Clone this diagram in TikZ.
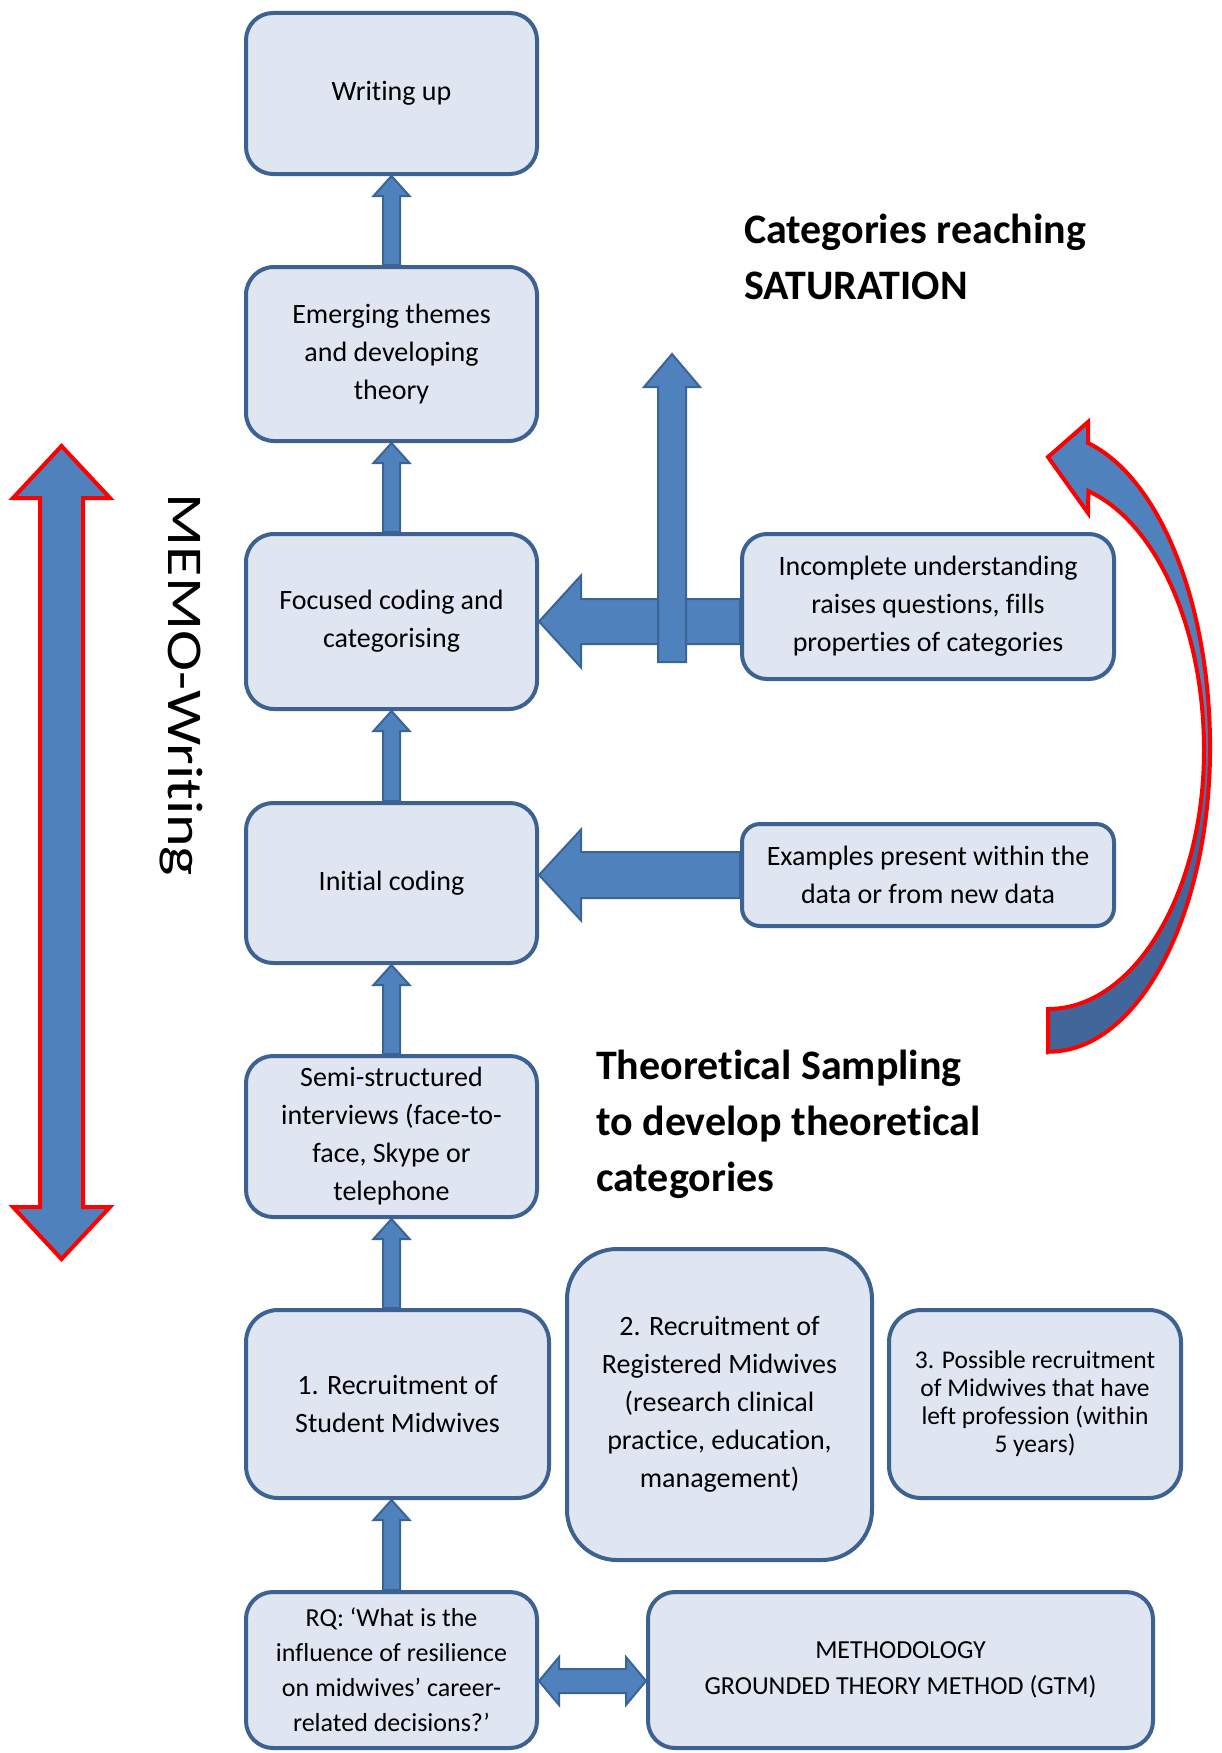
\documentclass[tikz,border=0pt]{standalone}
\usepackage{fontspec}
\setmainfont{Carlito}[Ligatures=NoCommon]
\usetikzlibrary{calc}

\definecolor{boxfill}{HTML}{DFE6F1}
\definecolor{boxline}{HTML}{3D6191}
\definecolor{arrfill}{HTML}{4F81BD}
\definecolor{arrline}{HTML}{3A6396}
\definecolor{arrdark}{HTML}{41679A}
\definecolor{loopred}{HTML}{FF0000}

\tikzset{
  stage/.style={draw=boxline, fill=boxfill, line width=4pt, rounded corners=#1,
    align=center, inner sep=0pt, text=black, font=\fontsize{28}{38}\selectfont},
  stage/.default=27pt,
  blockarr/.style={fill=arrfill, draw=arrline, line width=2pt, line join=miter},
  memoarr/.style={fill=arrfill, draw=loopred, line width=4pt, line join=miter},
  heading/.style={font=\bfseries\fontsize{42}{56}\selectfont, align=left,
    anchor=west, inner sep=0pt},
}

% single block arrow: style, tail, tip, shaft half width, head half width, head length
\newcommand\blockarrow[6]{%
  \coordinate (ba-head) at ($(#3)!#6!(#2)$);
  \filldraw[#1] ($(#2)!#4!-90:(#3)$) -- ($(ba-head)!#4!-90:(#3)$)
    -- ($(ba-head)!#5!-90:(#3)$) -- (#3) -- ($(ba-head)!#5!90:(#3)$)
    -- ($(ba-head)!#4!90:(#3)$) -- ($(#2)!#4!90:(#3)$) -- cycle;
}
% double block arrow: style, end a, end b, shaft half width, head half width, head length
\newcommand\dblockarrow[6]{%
  \coordinate (da-a) at ($(#2)!#6!(#3)$);
  \coordinate (da-b) at ($(#3)!#6!(#2)$);
  \filldraw[#1] (#2) -- ($(da-a)!#5!90:(#3)$) -- ($(da-a)!#4!90:(#3)$)
    -- ($(da-b)!#4!90:(#3)$) -- ($(da-b)!#5!90:(#3)$) -- (#3)
    -- ($(da-b)!#5!-90:(#3)$) -- ($(da-b)!#4!-90:(#3)$)
    -- ($(da-a)!#4!-90:(#3)$) -- ($(da-a)!#5!-90:(#3)$) -- cycle;
}
% outline of the curved feedback arrow on the right
\newcommand\looppath{(1048,1052) -- (1048,1009)
  arc[start angle=90, end angle=0, x radius=156, y radius=259]
  arc[start angle=0, end angle=-75, x radius=156, y radius=268]
  -- (1088,513) -- (1048,457) -- (1088,422) -- (1088,443)
  arc[start angle=-76, end angle=0, x radius=161, y radius=314]
  arc[start angle=0, end angle=90, x radius=161, y radius=304] -- cycle}

\begin{document}
\begin{tikzpicture}[x=1pt, y=-1pt]
\useasboundingbox (0,0) rectangle (1221,1753);

% main column of stages
\node[stage, minimum width=291pt, minimum height=161pt] (WU) at (391.5,93.5) {Writing up};
\node[stage=28pt, minimum width=291pt, minimum height=174pt] (EM) at (391.5,354)
  {Emerging themes\\and developing\\theory};
\node[stage=28pt, minimum width=291pt, minimum height=175pt] (FO) at (391.5,621.5)
  {Focused coding and\\categorising};
\node[stage, minimum width=291pt, minimum height=160pt] (IN) at (391.5,883) {Initial coding};
\node[stage, minimum width=291pt, minimum height=161pt] (SE) at (391.5,1136.5)
  {Semi-structured\\interviews (face-to-\\face, Skype or\\telephone};
\node[stage=32pt, minimum width=303pt, minimum height=188pt] (R1) at (397.5,1404)
  {1. Recruitment of\\Student Midwives};
\node[stage=50pt, minimum width=305pt, minimum height=311pt] (R2) at (719.5,1404.5)
  {2. Recruitment of\\Registered Midwives\\(research clinical\\practice, education,\\management)};
\node[stage=32pt, minimum width=292pt, minimum height=188pt,
  font=\fontsize{25.5}{28}\selectfont] (R3) at (1035,1404)
  {3. Possible recruitment\\of Midwives that have\\left profession (within\\5 years)};
\node[stage, minimum width=291pt, minimum height=156pt,
  font=\fontsize{26}{35}\selectfont] (RQ) at (391.5,1670)
  {RQ: ‘What is the\\influence of resilience\\on midwives’ career-\\related decisions?’};
\node[stage, minimum width=505pt, minimum height=156pt,
  font=\fontsize{26}{36}\selectfont] (ME) at (900.5,1670)
  {METHODOLOGY\\GROUNDED THEORY METHOD (GTM)};

% side boxes
\node[stage=25pt, minimum width=372pt, minimum height=145pt] (IC) at (928,606.5)
  {Incomplete understanding\\raises questions, fills\\properties of categories};
\node[stage=18pt, minimum width=372pt, minimum height=102pt] (EX) at (928,875)
  {Examples present within the\\data or from new data};

% headings
\node[heading] (sat) at (744,257) {Categories reaching\\SATURATION};
\node[heading] (theo) at (596,1124) {Theoretical Sampling\\to develop theoretical\\categories};
\node[rotate=-90, font=\fontsize{50}{50}\selectfont, inner sep=0pt] (memo) at (181,685)
  {\scalebox{1.24}[1]{MEMO-Writing}};

% upward flow between stages
\blockarrow{blockarr}{RQ.north}{R1.south -| RQ.north}{8.5pt}{18pt}{20pt}
\coordinate (r1top) at (SE.south |- R1.north);
\blockarrow{blockarr}{r1top}{SE.south}{8.5pt}{18pt}{20pt}
\blockarrow{blockarr}{SE.north}{IN.south}{8.5pt}{18pt}{20pt}
\blockarrow{blockarr}{IN.north}{FO.south}{8.5pt}{18pt}{20pt}
\blockarrow{blockarr}{FO.north}{EM.south}{8.5pt}{18pt}{20pt}
\blockarrow{blockarr}{EM.north}{WU.south}{8.5pt}{18pt}{20pt}

% feedback from the side boxes
\coordinate (ic-tail) at (IC.west |- FO.east);
\blockarrow{blockarr}{ic-tail}{FO.east}{22.5pt}{46pt}{42pt}
\coordinate (ex-tip) at (IN.east |- EX.west);
\blockarrow{blockarr}{EX.west}{ex-tip}{23pt}{45.5pt}{42pt}

% towards saturation
\coordinate (sat-tail) at (672,662);
\coordinate (sat-tip) at (672,354);
\blockarrow{blockarr}{sat-tail}{sat-tip}{14pt}{28pt}{33pt}

% research question <-> methodology
\coordinate (rq-end) at ($(RQ.east)+(0,11)$);
\coordinate (me-end) at (ME.west |- rq-end);
\dblockarrow{blockarr}{rq-end}{me-end}{12pt}{24pt}{20pt}

% memo-writing double arrow
\coordinate (mw-bot) at (61.5,1259);
\coordinate (mw-top) at (61.5,446);
\dblockarrow{memoarr}{mw-bot}{mw-top}{21.5pt}{48.5pt}{52pt}

% curved theoretical-sampling loop
\fill[arrfill] \looppath;
\begin{scope}
  \clip \looppath;
  \shade[top color=arrfill, bottom color=arrdark] (990,730) rectangle (1230,830);
  \fill[arrdark] (990,829) rectangle (1230,1070);
\end{scope}
\draw[loopred, line width=4pt, line join=miter] \looppath;
\end{tikzpicture}
\end{document}
